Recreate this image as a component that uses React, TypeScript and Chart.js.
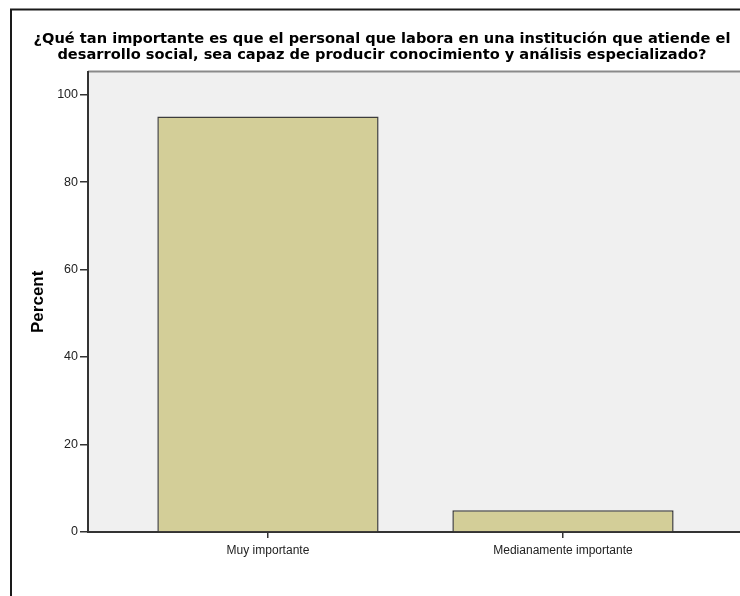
import React, { useEffect, useRef } from "react";
import { Chart, registerables } from "chart.js";

Chart.register(...registerables);

const titleLines = [
  "¿Qué tan importante es que el personal que labora en una institución que atiende el",
  "desarrollo social, sea capaz de producir conocimiento y análisis especializado?",
];
const categories = ["Muy importante", "Medianamente importante"];
const percentValues = [95, 5];
const yTickValues = [0, 20, 40, 60, 80, 100];
const yAxisTitle = "Percent";

const FONT = "'Liberation Sans', Arial, Helvetica, sans-serif";
const TITLE_FONT = "'DejaVu Sans', Verdana, sans-serif";

const framePlugin = {
  id: "frameAndPlot",
  beforeDraw(chart: any) {
    const { ctx, chartArea } = chart;
    ctx.save();
    ctx.fillStyle = "#ffffff";
    ctx.fillRect(0, 0, chart.width, chart.height);
    // outer frame
    ctx.strokeStyle = "#1a1a1a";
    ctx.lineWidth = 2;
    ctx.strokeRect(11, 9.5, chart.width + 20, chart.height + 20);
    // plot background
    ctx.fillStyle = "#f0f0f0";
    ctx.fillRect(chartArea.left, chartArea.top, chartArea.right - chartArea.left, chartArea.bottom - chartArea.top);
    // top border of plot
    ctx.strokeStyle = "#8a8a8a";
    ctx.lineWidth = 2;
    ctx.beginPath();
    ctx.moveTo(chartArea.left, chartArea.top);
    ctx.lineTo(chartArea.right, chartArea.top);
    ctx.stroke();
    ctx.restore();
  },
};

export default function App() {
  const ref = useRef<HTMLCanvasElement>(null);
  useEffect(() => {
    if (!ref.current) return;
    const chart = new Chart(ref.current, {
      type: "bar",
      data: {
        datasets: [
          {
            data: percentValues.map((v, i) => ({ x: i, y: v })),
            backgroundColor: "#d3ce98",
            borderColor: "#3c3c3c",
            borderWidth: 1.5,
            barPercentage: 0.75,
            categoryPercentage: 1,
          },
        ],
      },
      options: {
        animation: false,
        responsive: false,
        maintainAspectRatio: false,
        layout: { padding: { left: 24, right: 0, top: 0, bottom: 0 } },
        plugins: {
          legend: { display: false },
          tooltip: { enabled: false },
          title: {
            display: true,
            text: titleLines,
            color: "#000000",
            font: { family: TITLE_FONT, size: 14.6, weight: "bold", lineHeight: 1.12 },
            padding: { top: 30.9, bottom: 8 },
          },
        },
        scales: {
          x: {
            type: "linear",
            min: -0.61,
            max: 1.6,
            offset: false,
            afterBuildTicks: (scale: any) => {
              scale.ticks = categories.map((_, i) => ({ value: i }));
            },
            afterFit: (scale: any) => {
              scale.height = 64;
            },
            ticks: {
              autoSkip: false,
              maxRotation: 0,
              padding: 5,
              color: "#222222",
              font: { family: FONT, size: 12 },
              callback: (v: any) => categories[v] ?? "",
            },
            grid: {
              display: true,
              offset: false,
              drawOnChartArea: false,
              drawTicks: true,
              tickLength: 6,
              color: "#333333",
              lineWidth: 1.5,
            },
            border: { display: true, color: "#333333", width: 2 },
          },
          y: {
            type: "linear",
            min: 0,
            max: 105.26,
            afterBuildTicks: (scale: any) => {
              scale.ticks = yTickValues.map((v) => ({ value: v }));
            },
            afterFit: (scale: any) => {
              scale.width = 64;
            },
            ticks: {
              padding: 2,
              color: "#222222",
              font: { family: FONT, size: 12.5 },
            },
            grid: {
              display: true,
              drawOnChartArea: false,
              drawTicks: true,
              tickLength: 8,
              color: "#333333",
              lineWidth: 1.5,
            },
            border: { display: true, color: "#333333", width: 2 },
            title: {
              display: true,
              text: yAxisTitle,
              color: "#000000",
              font: { family: FONT, size: 17, weight: "bold", lineHeight: 1.2 },
              padding: { top: 4, bottom: 0 },
            },
          },
        },
      },
      plugins: [framePlugin],
    });
    return () => chart.destroy();
  }, []);
  return (
    <div style={{ position: "absolute", left: 0, top: 0, width: 740, height: 596, overflow: "hidden", background: "#fff" }}>
      <canvas ref={ref} width={740} height={596} style={{ display: "block", width: 740, height: 596 }} />
    </div>
  );
}
